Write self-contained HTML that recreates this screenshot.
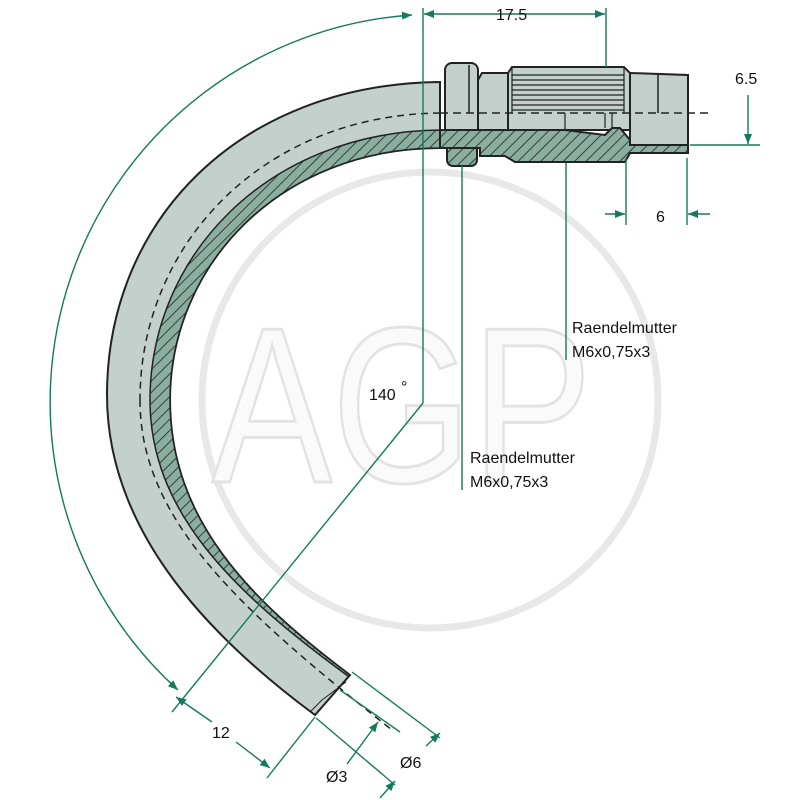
<!DOCTYPE html>
<html><head><meta charset="utf-8"><style>html,body{margin:0;padding:0;background:#fff}svg{display:block}</style></head>
<body>
<svg width="800" height="800" viewBox="0 0 800 800" xmlns="http://www.w3.org/2000/svg" font-family="Liberation Sans, sans-serif">
<defs>
<pattern id="h" patternUnits="userSpaceOnUse" width="8" height="8" patternTransform="rotate(45)">
<rect width="8" height="8" fill="#8aae9f"/><line x1="0" y1="0" x2="0" y2="8" stroke="#222" stroke-width="1.6"/>
</pattern>
<marker id="a" viewBox="0 0 10 10" refX="10" refY="5" markerWidth="10" markerHeight="10" orient="auto-start-reverse" markerUnits="userSpaceOnUse"><path d="M0,1 L10,5 L0,9 z" fill="#137a5c"/></marker>
</defs>
<!-- watermark -->
<circle cx="430" cy="400" r="228" fill="none" stroke="#e8e8e8" stroke-width="7"/>
<text x="212" y="482" font-size="222" fill="#fafafa" stroke="#e3e3e3" stroke-width="3" textLength="380" lengthAdjust="spacingAndGlyphs">AGP</text>

<!-- tube gray body -->
<path d="M440,82 C240,84 107,220 107,395 C107,525 200,630 315,715 L350,675 C250,600 170,520 170,400 C170,265 280,148 440,148 Z" fill="#c3d0cb" stroke="#222" stroke-width="2"/>
<!-- hatched wall -->
<path d="M440,130 C265,132 150,258 150,400 C150,510 230,590 348,676 L350,675 C250,600 170,520 170,400 C170,265 280,148 440,148 Z" fill="url(#h)" stroke="#222" stroke-width="1.5"/>
<path d="M140,400 C140,520 240,610 392,730" fill="none" stroke="#222" stroke-width="1.5" stroke-dasharray="7,5"/>
<path d="M440,113 C262,115 140,245 140,400" fill="none" stroke="#222" stroke-width="1.5" stroke-dasharray="7,5"/>
<path d="M310,712 L322,700 L346,682" fill="none" stroke="#222" stroke-width="1"/>

<!-- fitting -->
<rect x="445" y="63" width="33" height="80" rx="7" fill="#c3d0cb" stroke="#222" stroke-width="2"/>
<line x1="469" y1="65" x2="469" y2="113" stroke="#222" stroke-width="1.5"/>
<rect x="447" y="143" width="30" height="23" rx="6" fill="url(#h)" stroke="#222" stroke-width="2"/>
<path d="M478,130 L478,80 L482,73 L508,73 L508,130 Z" fill="#c3d0cb" stroke="#222" stroke-width="2"/>
<path d="M508,130 L508,73 L512,67 L624,67 L630,73 L630,130 Z" fill="#c3d0cb" stroke="#222" stroke-width="2"/>
<g stroke="#222" stroke-width="1.2">
<line x1="512" y1="75" x2="624" y2="75"/><line x1="512" y1="80" x2="624" y2="80"/><line x1="512" y1="85" x2="624" y2="85"/><line x1="512" y1="90" x2="624" y2="90"/><line x1="512" y1="95" x2="624" y2="95"/><line x1="512" y1="100" x2="624" y2="100"/><line x1="512" y1="105" x2="624" y2="105"/><line x1="512" y1="110" x2="624" y2="110"/>
<line x1="512" y1="67" x2="512" y2="113"/><line x1="624" y1="67" x2="624" y2="113"/>
</g>
<path d="M630,73 L688,75 L688,145 L630,145 Z" fill="#c3d0cb" stroke="#222" stroke-width="2"/>
<line x1="658" y1="75" x2="658" y2="113" stroke="#222" stroke-width="1.5"/>
<path d="M440,130 L565,130 L605,135 L612,128 L620,128 L630,140 L630,145 L688,145 L688,153 L630,153 L625,162 L515,162 L505,156 L480,156 L480,148 L440,148 Z" fill="url(#h)" stroke="#222" stroke-width="2"/>
<path d="M565,113 L565,130 M605,113 L605,128 M612,113 L612,128" stroke="#222" stroke-width="1.2" fill="none"/>
<line x1="440" y1="113" x2="708" y2="113" stroke="#222" stroke-width="1.5" stroke-dasharray="8,5"/>

<!-- dimensions -->
<g stroke="#137a5c" stroke-width="1.4" fill="none">
<line x1="423" y1="8" x2="423" y2="403"/>
<line x1="606" y1="8" x2="606" y2="67"/>
<line x1="424" y1="14" x2="605" y2="14" marker-start="url(#a)" marker-end="url(#a)"/>
<line x1="690" y1="145" x2="760" y2="145"/>
<line x1="748" y1="95" x2="748" y2="144" marker-end="url(#a)"/>
<line x1="626" y1="158" x2="626" y2="225"/>
<line x1="687" y1="158" x2="687" y2="225"/>
<line x1="605" y1="214" x2="625" y2="214" marker-end="url(#a)"/>
<line x1="710" y1="214" x2="688" y2="214" marker-end="url(#a)"/>
<line x1="462" y1="166" x2="462" y2="490"/>
<line x1="566" y1="163" x2="566" y2="360"/>
<line x1="423" y1="403" x2="172" y2="712"/>
<path d="M412,15 A388,388 0 0 0 178,690" marker-start="url(#a)" marker-end="url(#a)"/>
<line x1="315" y1="717" x2="267" y2="778"/>
<line x1="176" y1="697" x2="212" y2="722" marker-start="url(#a)"/>
<line x1="236" y1="742" x2="270" y2="768" marker-end="url(#a)"/>
<line x1="316" y1="718" x2="395" y2="785"/>
<line x1="352" y1="672" x2="440" y2="738"/>
<line x1="340" y1="690" x2="400" y2="732"/>
<line x1="347" y1="764" x2="378" y2="722" marker-end="url(#a)"/>
<line x1="380" y1="798" x2="395" y2="781" marker-end="url(#a)"/>
<line x1="426" y1="746" x2="440" y2="733" marker-end="url(#a)"/>
</g>
<g font-size="16" fill="#111">
<text x="496" y="20">17.5</text>
<text x="735" y="84">6.5</text>
<text x="656" y="222">6</text>
<text x="572" y="333">Raendelmutter</text>
<text x="572" y="357">M6x0,75x3</text>
<text x="470" y="463">Raendelmutter</text>
<text x="470" y="487">M6x0,75x3</text>
<text x="369" y="400">140</text>
<text x="401" y="392" font-size="16">°</text>
<text x="212" y="738">12</text>
<text x="326" y="782">Ø3</text>
<text x="400" y="768">Ø6</text>
</g>
</svg>
</body></html>
